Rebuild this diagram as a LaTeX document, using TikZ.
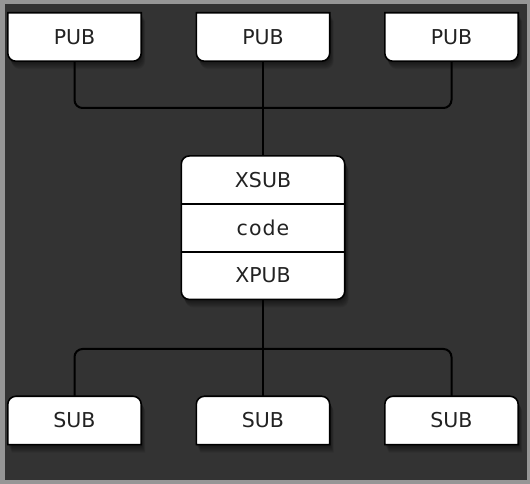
\documentclass[tikz,border=0pt]{standalone}
\usepackage{fontspec}
\setmainfont{DejaVu Sans}
\usetikzlibrary{calc}

\definecolor{rim}{RGB}{150,150,150}
\definecolor{panel}{RGB}{51,51,51}
\definecolor{ink}{RGB}{34,34,34}

\pgfdeclarelayer{back}
\pgfdeclarelayer{boxes}
\pgfsetlayers{back,boxes,main}

% outlines: square top / round bottom, and the other way round
\newcommand\pubshape[1]{(#1.north west) -- (#1.north east)
  -- ($(#1.south east)+(0,8)$) arc[start angle=0,end angle=-90,radius=8]
  -- ($(#1.south west)+(8,0)$) arc[start angle=270,end angle=180,radius=8] -- cycle}
\newcommand\subshape[1]{(#1.south west) -- ($(#1.north west)+(0,-8)$)
  arc[start angle=180,end angle=90,radius=8]
  -- ($(#1.north east)+(-8,0)$) arc[start angle=90,end angle=0,radius=8]
  -- (#1.south east) -- cycle}

\begin{document}
\begin{tikzpicture}[x=1pt,y=1pt,
    socket/.style={minimum width=133pt, minimum height=48pt, inner sep=0pt,
      text=ink, font=\fontsize{20.5}{24}\selectfont},
    cell/.style={socket, minimum width=163pt, minimum height=47.7pt},
    wire/.style={line width=2pt, rounded corners=8pt},
    shell/.style={fill=white, draw=black, line width=1.6pt},
    shade/.style={fill=black, opacity=0.07}]

    % frame
    \begin{pgfonlayer}{back}
      \fill [rim] (0,0) rectangle (530,484);
      \fill [panel] (5,4) rectangle (527,480);
    \end{pgfonlayer}

    % sockets
    \node [socket] (pub1) at (74.5,447) {PUB};
    \node [socket] (pub2) at (263,447) {PUB};
    \node [socket] (pub3) at (451.5,447) {PUB};
    \node [cell] (xsub) at (263,304) {XSUB};
    \node [cell] (code) at (263,256.3) {\addfontfeature{LetterSpace=5}code};
    \node [cell] (xpub) at (263,208.6) {XPUB};
    \node [socket] (sub1) at (74.5,63.5) {SUB};
    \node [socket] (sub2) at (263,63.5) {SUB};
    \node [socket] (sub3) at (451.5,63.5) {SUB};

    \begin{pgfonlayer}{boxes}
      \foreach \s in {1,...,8} {
        \begin{scope}[transform canvas={xshift=0.5pt*\s, yshift=-1pt*\s}]
          \foreach \n in {pub1,pub2,pub3} \fill [shade] \pubshape{\n};
          \foreach \n in {sub1,sub2,sub3} \fill [shade] \subshape{\n};
          \fill [shade, rounded corners=8pt] (xsub.north west) rectangle (xpub.south east);
        \end{scope}
      }
      \foreach \n in {pub1,pub2,pub3} \filldraw [shell] \pubshape{\n};
      \foreach \n in {sub1,sub2,sub3} \filldraw [shell] \subshape{\n};
      \filldraw [shell, rounded corners=8pt] (xsub.north west) rectangle (xpub.south east);
      \draw [line width=1.6pt] (xsub.south west) -- (xsub.south east)
                               (code.south west) -- (code.south east);
    \end{pgfonlayer}

    % wires
    \coordinate (topbus) at (263,376);
    \coordinate (lowbus) at (263,135);
    \draw [wire] (pub1.south) |- (topbus) -| (pub3.south);
    \draw [wire] (pub2.south) -- (xsub.north);
    \draw [wire] (sub1.north) |- (lowbus) -| (sub3.north);
    \draw [wire] (xpub.south) -- (sub2.north);
  \end{tikzpicture}
\end{document}
